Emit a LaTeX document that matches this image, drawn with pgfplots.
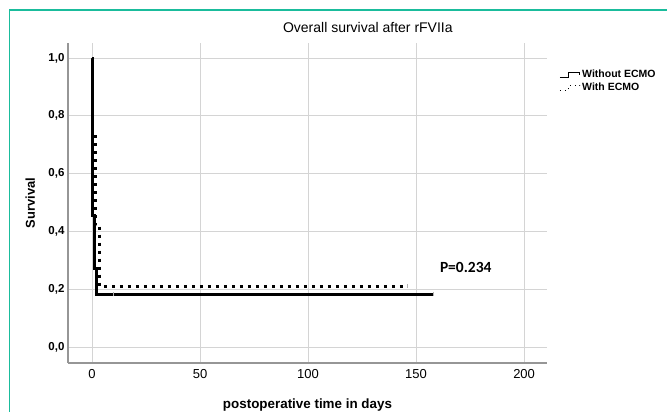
\documentclass[border=0pt]{standalone}
\usepackage{pgfplots}
\pgfplotsset{compat=1.18}
\usepackage{fontspec}
\setmainfont{Liberation Sans}
\newfontfamily\carlito{Carlito}
\definecolor{frameteal}{RGB}{26,188,156}
\definecolor{gridgray}{RGB}{212,212,212}
\definecolor{axisgray}{RGB}{150,150,150}
\begin{document}
\begin{tikzpicture}
\useasboundingbox (0,0) rectangle (667pt,412pt);
\draw[frameteal, line width=1.2pt] (9.5pt,0pt) -- (9.5pt,402pt) -- (667pt,402pt);
\begin{axis}[
  at={(68pt,49pt)}, anchor=south west,
  scale only axis,
  width=479pt, height=320pt,
  xmin=-11.1, xmax=210.6,
  ymin=-0.055, ymax=1.052,
  axis lines*=left,
  axis line style={axisgray, line width=1.2pt},
  xtick={0,50,100,150,200},
  ytick={0,0.2,0.4,0.6,0.8,1.0},
  major tick length=0pt,
  grid=major,
  grid style={gridgray, line width=0.9pt},
  /pgf/number format/assume math mode=true,
  yticklabel style={/pgf/number format/.cd, use comma, fixed, fixed zerofill, precision=1, /tikz/.cd,
    font=\bfseries\fontsize{11.5}{13}\selectfont},
  xticklabel style={font=\fontsize{13}{15}\selectfont, yshift=-3pt},
  title={Overall survival after rFVIIa},
  title style={at={(axis description cs:0.626,1.031)}, anchor=center, font=\fontsize{14}{16}\selectfont},
  xlabel={postoperative time in days},
  xlabel style={at={(axis description cs:0.5,-0.131)}, anchor=center, font=\bfseries\fontsize{13.4}{15}\selectfont},
  ylabel={Survival},
  ylabel style={at={(axis description cs:-0.079,0.5)}, anchor=center, rotate=0, font=\bfseries\fontsize{12.9}{15}\selectfont},
  legend style={at={(axis description cs:1.019,0.928)}, anchor=north west, draw=none, fill=none,
    font=\bfseries\fontsize{10.5}{12}\selectfont, row sep=0pt},
  legend cell align=left,
  reverse legend,
  clip=false,
]
% With ECMO (dotted), drawn first
\addplot[const plot, black, line width=3pt, dash pattern=on 3pt off 5pt,
  legend image code/.code={\draw[black, line width=0.9pt, dash pattern=on 1pt off 4pt] (0pt,-2.5pt) -- (9pt,-2.5pt) -- (9pt,2.5pt) -- (20pt,2.5pt) -- (20pt,0pt);}]
  coordinates {(0,1) (0.2,0.737) (1.4,0.421) (3.4,0.211) (146,0.211)};
\addlegendentry{With ECMO}
% Without ECMO (solid)
\addplot[const plot, black, line width=3pt,
  legend image code/.code={\draw[black, line width=0.9pt] (0pt,-2.5pt) -- (9pt,-2.5pt) -- (9pt,2.5pt) -- (20pt,2.5pt) -- (20pt,0pt);}]
  coordinates {(0,1) (0.3,0.455) (1.2,0.273) (2.0,0.182) (158,0.182)};
\addlegendentry{Without ECMO}
% censoring marks
\addplot[only marks, mark=|, mark size=2pt, gray!60, line width=0.8pt, forget plot]
  coordinates {(10,0.182) (146,0.211) (158,0.182)};
\node[font=\carlito\bfseries\fontsize{15.5}{17}\selectfont] at (axis cs:173,0.277) {P=0.234};
\end{axis}
\end{tikzpicture}
\end{document}
